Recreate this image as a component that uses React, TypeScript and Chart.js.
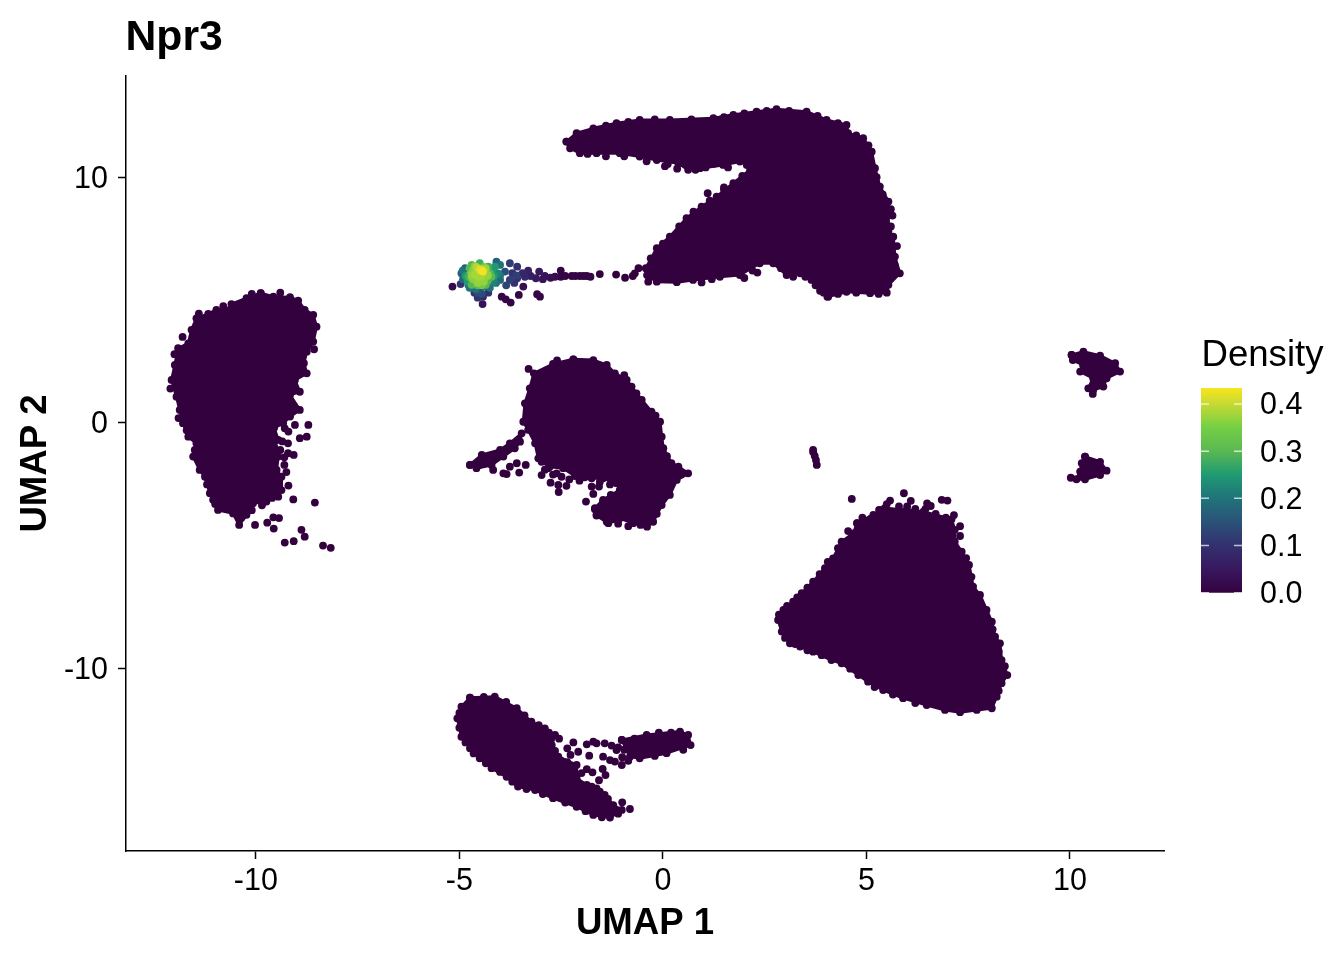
import React, { useEffect, useRef } from "react";
import { Chart, registerables } from "chart.js";

Chart.register(...registerables);

const FONT = "'Liberation Sans', Arial, sans-serif";
const INK = "#34013F";

const xTicks = [-10, -5, 0, 5, 10];
const yTicks = [-10, 0, 10];
const densityTicks = [0, 0.1, 0.2, 0.3, 0.4];
const densityMax = [0.434];

const colourStops: [number, string][] = [
  [0, "#34013F"], [0.05, "#38185F"], [0.1, "#33316F"], [0.15, "#2A5278"], [0.2, "#20737A"],
  [0.25, "#1F9A72"], [0.3, "#5AB853"], [0.35, "#74CF44"], [0.4, "#C6DA33"], [0.434, "#F8E51E"],
];

const leftBlob = [[-9.88,5.28],[-9.57,5.14],[-9.16,5.12],[-8.96,4.98],[-8.8,4.6],[-8.59,4.4],[-8.51,3.92],[-8.59,3.31],[-8.75,2.9],[-8.82,2.43],[-8.75,2.02],[-9.04,1.75],[-8.92,1.27],[-9.16,1.14],[-8.92,0.53],[-9.16,0.26],[-9.33,-0.01],[-9.55,-0.2],[-9.45,-0.69],[-9.55,-0.96],[-9.45,-1.37],[-9.49,-1.91],[-9.37,-2.19],[-9.37,-2.73],[-9.74,-3.2],[-10.07,-3.27],[-10.23,-3.74],[-10.41,-4.15],[-10.56,-3.68],[-10.93,-3.54],[-11.05,-3.13],[-11.13,-2.86],[-11.25,-2.19],[-11.38,-1.91],[-11.54,-1.37],[-11.46,-0.83],[-11.66,-0.56],[-11.79,-0.01],[-11.87,0.53],[-11.95,1.07],[-12.07,1.75],[-11.99,2.36],[-11.91,3.04],[-11.66,3.24],[-11.58,3.79],[-11.46,4.26],[-11.17,4.44],[-10.97,4.6],[-10.64,4.6],[-10.6,4.84],[-10.23,5.08]];
const leftStrays = [[-8.71,-0.08],[-8.92,-0.62],[-8.75,-0.56],[-9.21,-0.83],[-9.21,-1.23],[-9.07,-1.3],[-9.3,-1.71],[-9.08,-3.11],[-8.55,-3.24],[-9.57,-3.84],[-9.43,-3.87],[-9.72,-4.06],[-9.56,-4.3],[-10.02,-4.15],[-8.88,-4.35],[-8.8,-4.63],[-9.29,-4.87],[-9.07,-4.81],[-8.35,-4.99],[-8.16,-5.08],[-8.57,3.0],[-9.29,-0.22],[-9.04,-0.08],[-9.2,-0.35],[-9.35,-0.75],[-9.4,-1.1],[-9.25,-2.0],[-9.2,-2.55],[-9.45,-3.0],[-9.6,-3.05],[-9.85,-3.35],[-10.1,-3.55],[-10.35,-3.85],[-9.5,-2.6],[-9.3,-1.4],[-9.05,2.0],[-8.7,3.35],[-8.95,3.1],[-9.0,4.9],[-9.4,5.3],[-10.1,5.25],[-10.8,4.75],[-11.4,4.45],[-11.8,3.5],[-12.0,2.8],[-12.1,1.4],[-11.9,0.2],[-11.7,-0.3],[-11.5,-1.1],[-11.2,-2.5],[-11.0,-3.3]];

const centreBlob = [[-2.2,2.59],[-1.71,2.56],[-1.38,2.36],[-1.18,2.02],[-0.89,1.75],[-0.77,1.48],[-0.52,0.94],[-0.28,0.46],[-0.07,0.05],[-0.03,-0.56],[0.01,-1.03],[0.21,-1.64],[0.38,-1.78],[0.62,-2.05],[0.34,-2.32],[0.17,-2.93],[-0.03,-3.34],[-0.24,-4.02],[-0.39,-4.22],[-0.73,-4.08],[-1.06,-3.88],[-1.34,-4.08],[-1.63,-3.77],[-1.67,-3.47],[-1.47,-3.13],[-1.06,-2.73],[-1.14,-2.45],[-1.47,-2.25],[-1.75,-2.25],[-1.96,-2.19],[-2.16,-2.16],[-2.45,-1.84],[-2.78,-1.78],[-2.98,-1.58],[-3.06,-1.44],[-3.14,-0.83],[-3.31,-0.28],[-3.43,0.05],[-3.39,0.8],[-3.27,1.41],[-3.17,2.02],[-2.7,2.4]];
const centreStrays = [[-2.98,-2.12],[-2.82,-1.84],[-2.61,-2.05],[-2.49,-2.19],[-2.76,-2.43],[-2.57,-2.52],[-2.37,-2.56],[-2.56,-2.81],[-1.94,-1.94],[-1.92,-2.21],[-1.73,-2.16],[-1.75,-2.59],[-1.57,-2.59],[-1.71,-2.89],[-1.89,-3.2],[-1.28,-2.93],[-1.67,-3.51],[-1.63,-3.74],[-1.38,-4.02],[-1.24,-3.92],[-1.47,-3.2],[-2.9,-1.9],[-2.7,-2.1],[-2.3,-2.3],[-2.05,-2.35],[-1.55,-2.4],[-1.3,-2.5],[-1.1,-3.05],[-1.35,-3.4],[-1.5,-3.7],[-1.1,-4.1],[-0.85,-4.2],[-0.55,-4.15],[-2.6,2.55],[-3.3,2.2],[-0.95,1.95],[-0.65,1.2],[-0.18,0.3],[0.1,-1.35],[0.45,-2.1],[0.0,-3.1],[-0.15,-3.7]];
const centreTail = [[-4.74,-1.71],[-4.45,-1.3],[-4.0,-1.1],[-3.76,-0.83],[-3.47,-0.42],[-3.51,-0.76],[-3.64,-1.03],[-3.92,-1.37],[-4.21,-1.71],[-4.58,-1.84]];
const tailStrays = [[-4.17,-1.91],[-3.92,-2.05],[-3.76,-1.78],[-3.59,-1.64],[-3.37,-1.71],[-3.53,-2.02],[-3.84,-2.08]];

const rightBlob = [[4.77,-4.08],[5.17,-3.74],[5.45,-3.47],[5.99,-3.54],[6.4,-3.61],[7.09,-3.92],[7.17,-4.35],[7.17,-4.83],[7.34,-5.24],[7.52,-5.78],[7.58,-6.26],[7.62,-6.66],[7.79,-7.0],[7.95,-7.61],[8.08,-8.09],[8.16,-8.7],[8.28,-8.97],[8.32,-9.65],[8.46,-10.26],[8.32,-10.59],[8.2,-11.14],[8.08,-11.61],[7.71,-11.68],[7.3,-11.77],[6.93,-11.68],[6.48,-11.48],[5.9,-11.2],[5.41,-10.87],[5.04,-10.53],[4.8,-10.26],[4.39,-9.78],[4.14,-9.65],[3.69,-9.31],[3.37,-9.1],[3.12,-8.97],[2.92,-8.49],[2.83,-8.02],[2.96,-7.61],[3.2,-7.27],[3.41,-6.93],[3.69,-6.46],[3.98,-5.91],[4.18,-5.51],[4.39,-4.83],[4.68,-4.49]];
const rightStrays = [[4.64,-3.09],[5.92,-2.86],[5.58,-3.16],[5.5,-3.3],[6.09,-3.17],[6.49,-3.27],[6.58,-3.38],[6.85,-3.13],[6.99,-3.16],[5.31,-3.54],[4.9,-3.85],[5.1,-3.9],[5.35,-3.55],[5.6,-3.6],[5.8,-3.4],[6.0,-3.4],[6.2,-3.5],[6.45,-3.5],[6.7,-3.7],[6.95,-3.85],[7.15,-3.75],[7.3,-4.2],[7.3,-4.6],[7.45,-5.5],[4.55,-4.4],[4.3,-5.1],[4.05,-5.65],[3.85,-6.15],[3.55,-6.7],[3.3,-7.1],[3.05,-7.45],[2.85,-7.8],[3.0,-8.75],[3.25,-9.0],[3.55,-9.25],[3.9,-9.45],[4.6,-10.0],[5.2,-10.75],[5.65,-11.05],[6.2,-11.4],[8.1,-8.4],[8.25,-9.3],[8.4,-9.9],[8.25,-10.9]];

const bottomBlob = [[-4.74,-11.18],[-4.13,-11.14],[-3.59,-11.61],[-3.23,-12.16],[-2.9,-12.43],[-2.65,-12.7],[-2.73,-13.11],[-2.57,-13.58],[-2.12,-13.92],[-2.12,-14.46],[-1.87,-14.73],[-1.63,-14.87],[-1.43,-15.14],[-1.22,-15.55],[-1.01,-15.75],[-1.3,-16.06],[-1.71,-15.95],[-2.12,-15.62],[-2.7,-15.27],[-3.14,-14.94],[-3.56,-14.8],[-3.84,-14.4],[-4.21,-14.05],[-4.5,-13.65],[-4.74,-13.24],[-4.95,-12.77],[-5.05,-12.02],[-4.95,-11.55]];
const bottomArm = [[-1.01,-12.9],[-0.4,-12.7],[0.42,-12.56],[0.62,-12.7],[0.68,-13.11],[0.09,-13.44],[-0.57,-13.65],[-0.81,-13.58]];
const bottomStrays = [[-1.71,-12.97],[-1.87,-13.08],[-1.63,-13.04],[-1.43,-13.04],[-1.26,-13.13],[-1.14,-13.31],[-1.47,-13.58],[-1.3,-13.72],[-1.18,-13.78],[-1.01,-13.92],[-2.2,-13.0],[-2.35,-13.24],[-2.08,-13.38],[-2.27,-13.51],[-1.81,-13.54],[-1.87,-14.09],[-1.73,-14.22],[-1.48,-14.08],[-1.41,-14.33],[-1.57,-14.54],[-1.0,-15.44],[-0.81,-15.71],[-4.4,-11.15],[-3.85,-11.35],[-3.4,-11.9],[-3.05,-12.3],[-2.8,-12.6],[-2.55,-12.85],[-2.65,-13.35],[-2.35,-13.8],[-2.0,-14.25],[-1.75,-14.8],[-1.55,-15.0],[-1.35,-15.3],[-1.1,-15.9],[-1.5,-16.05],[-1.9,-15.8],[-2.4,-15.45],[-2.95,-15.1],[-3.35,-14.9],[-3.7,-14.6],[-4.0,-14.2],[-4.35,-13.85],[-4.65,-13.45],[-4.85,-13.0],[-5.0,-12.4],[-5.0,-11.8],[-0.7,-12.85],[-0.1,-12.6],[0.2,-12.6],[0.5,-13.3],[-0.2,-13.55],[-0.95,-13.3],[-1.1,-13.2],[-1.0,-13.6],[-0.85,-13.75]];

const topBlob = [[-2.37,11.45],[-2.12,11.79],[-1.71,11.99],[-1.14,12.2],[-0.57,12.33],[0.17,12.33],[1.24,12.4],[1.73,12.54],[2.3,12.67],[2.79,12.77],[3.53,12.67],[4.02,12.33],[4.51,12.13],[4.55,11.79],[4.92,11.59],[5.13,11.04],[5.21,10.37],[5.33,9.62],[5.54,9.01],[5.54,8.47],[5.54,7.79],[5.66,7.58],[5.7,6.77],[5.82,6.09],[5.54,5.62],[5.5,5.3],[5.09,5.28],[4.51,5.34],[4.06,5.14],[3.86,5.38],[3.65,5.82],[3.37,6.09],[3.04,6.02],[2.71,6.5],[2.38,6.5],[1.89,6.02],[1.4,5.95],[0.74,5.82],[0.34,5.73],[-0.15,5.75],[-0.39,6.02],[-0.42,6.3],[-0.15,7.11],[0.17,7.58],[0.58,8.33],[0.95,8.8],[1.32,9.21],[1.73,9.76],[2.14,10.3],[2.06,10.5],[1.89,10.64],[1.48,10.5],[0.91,10.37],[0.62,10.3],[0.38,10.57],[-0.15,10.7],[-0.57,10.84],[-1.06,10.98],[-1.63,10.98],[-2.04,10.98],[-2.28,11.18]];
const topStrays = [[0.12,10.54],[1.1,9.35],[1.5,9.59],[5.64,8.44],[4.04,5.14],[2.32,6.12],[-0.4,10.65],[0.05,10.45],[0.35,10.35],[0.8,10.3],[1.05,10.4],[1.25,10.55],[1.6,10.4],[-0.95,10.85],[-1.4,10.85],[-1.85,10.95],[0.95,5.72],[1.2,5.85],[2.0,5.9],[2.2,6.2],[2.9,6.3],[3.2,5.95],[3.5,5.95],[3.75,5.6],[3.95,5.3],[4.3,5.25],[4.75,5.3],[5.3,5.25],[5.7,6.4],[5.75,7.2],[5.6,8.0],[5.6,8.7],[5.4,9.3],[5.25,10.0],[5.05,11.3],[4.75,11.7],[4.3,12.2],[3.8,12.5],[3.1,12.7],[2.55,12.7],[2.0,12.6],[1.5,12.45],[0.7,12.35],[-0.2,12.35],[-0.85,12.25],[-1.4,12.1],[0.0,7.3],[0.4,8.0],[0.75,8.6],[1.15,9.05],[1.5,9.5],[1.95,10.05],[-0.3,6.7]];

const islandUpper = [[10.04,2.77],[10.33,2.9],[10.74,2.74],[11.11,2.43],[11.23,2.09],[10.9,1.82],[10.82,1.48],[10.57,1.34],[10.45,1.41],[10.57,1.82],[10.25,2.09],[10.32,2.36],[10.07,2.56]];
const islandLower = [[10.37,-1.37],[10.74,-1.58],[10.9,-1.94],[10.74,-2.12],[10.37,-2.29],[10.16,-2.29],[10.25,-1.98],[10.29,-1.64]];
const islandStrays = [[10.56,1.18],[10.02,-2.23],[3.69,-1.1],[3.73,-1.34],[3.78,-1.71],[3.69,-1.18],[3.76,-1.51]];

// x, y, density
const hotspot = [
  [-5.17,5.55,0.02],[-4.97,5.65,0.1],[-4.63,5.3,0.1],[-4.42,5.14,0.08],[-4.43,4.84,0.04],[-4.29,5.3,0.1],[-3.96,5.14,0.01],[-3.86,5.03,0.01],[-3.74,4.9,0.01],[-3.54,5.21,0.01],[-3.09,5.24,0.01],[-3.02,5.14,0.01],[-3.43,5.55,0.03],[-2.51,6.2,0.01],[-2.51,5.95,0.01],[-2.24,5.98,0.01],[-2.04,5.98,0.01],[-1.87,5.98,0.01],[-1.55,6.06,0],[-1.15,6.04,0],[-0.93,5.91,0],[-2.76,5.91,0.03],[-2.9,5.98,0.04],[-3.04,6.16,0.05],[-3.12,5.89,0.05],[-3.31,6.2,0.07],[-3.39,5.95,0.08],[-3.58,6.36,0.1],[-3.58,5.89,0.1],[-3.76,6.5,0.12],[-3.76,5.82,0.12],[-3.88,6.16,0.15],[-4.0,5.82,0.18],[-4.09,6.56,0.17],[-4.0,6.43,0.2],[-4.5,5.41,0.15],[-4.86,6.3,0.17],[-4.95,6.09,0.17],[-4.91,5.85,0.18],[-4.78,5.62,0.18],[-4.62,5.62,0.22],[-4.37,5.55,0.2],[-4.17,5.75,0.22],[-4.05,6.09,0.22],[-4.13,6.36,0.25],[-4.7,6.43,0.3],[-4.5,6.5,0.28],[-4.29,6.36,0.28],[-4.78,5.95,0.28],[-4.66,5.75,0.3],[-4.42,5.71,0.3],[-4.21,5.95,0.3],[-4.66,6.23,0.36],[-4.33,6.09,0.36],[-4.54,5.95,0.38],[-4.5,6.26,0.41],[-4.42,6.16,0.43],[-4.58,6.34,0.39],[-4.5,5.82,0.36],
  [-4.92,6.2,0.2],[-4.0,6.0,0.2],[-4.1,5.7,0.2],[-4.25,5.5,0.2],[-4.75,5.5,0.2],[-4.6,5.45,0.2],[-4.85,5.98,0.25],[-4.8,5.75,0.25],[-4.2,6.2,0.25],[-4.15,6.0,0.25],[-4.7,5.62,0.3],[-4.55,5.6,0.3],[-4.35,5.62,0.3],[-4.3,5.8,0.3],[-4.25,6.1,0.3],[-4.75,6.3,0.3],[-4.7,5.9,0.34],[-4.6,5.8,0.34],[-4.4,5.85,0.34],[-4.35,5.95,0.34],[-4.4,6.35,0.34],[-4.7,6.1,0.34],[-4.62,6.05,0.38],[-4.5,6.1,0.38],[-4.45,6.0,0.38],[-4.55,6.2,0.38],[-4.4,6.25,0.38],[-4.48,6.2,0.42],[-4.45,6.22,0.42],
  [-3.7,6.1,0.1],[-3.45,6.1,0.08],[-3.25,5.98,0.06],[-3.65,5.7,0.1],[-3.85,5.6,0.13],[-3.6,6.0,0.12],[-2.95,5.85,0.04],[-2.65,5.95,0.02],[-2.4,5.98,0.01],[-2.15,5.98,0.01],[-1.95,5.98,0.01],[-1.78,5.95,0.01],[-4.55,5.1,0.1],[-4.45,5.25,0.14],[-4.55,5.3,0.14],[-0.74,5.98,0],[-0.69,6.09,0],[-0.6,6.3,0],[-0.36,5.75,0],
  [-4.7,6.0,0.37],[-4.65,5.85,0.36],[-4.4,5.75,0.37],[-4.3,6.0,0.37],[-4.55,5.7,0.37],[-4.45,5.6,0.34],[-4.62,6.38,0.36],[-4.35,6.3,0.37],
];

function hexRgb(h: string) {
  return [1, 3, 5].map((i) => parseInt(h.slice(i, i + 2), 16));
}
function densityColour(d: number) {
  for (let i = 1; i < colourStops.length; i++) {
    if (d <= colourStops[i][0]) {
      const [a, ca] = colourStops[i - 1];
      const [b, cb] = colourStops[i];
      const t = (d - a) / (b - a);
      const A = hexRgb(ca), B = hexRgb(cb);
      return `rgb(${A.map((v, k) => Math.round(v + (B[k] - v) * t)).join(",")})`;
    }
  }
  return colourStops[colourStops.length - 1][1];
}

const R = 3.9;
const toPts = (list: number[][]) => list.map(([x, y]) => ({ x, y }));
const closed = (list: number[][]) => toPts([...list, list[0]]);
const region = (list: number[][]) => ({
  type: "scatter", data: closed(list), showLine: true, fill: "shape", tension: 0,
  backgroundColor: INK, borderColor: INK, borderWidth: 3, borderJoinStyle: "round",
  pointRadius: R, pointBorderWidth: 0, pointBackgroundColor: INK,
});
const scatter = (list: number[][]) => ({
  type: "scatter", data: toPts(list), pointRadius: R, pointBorderWidth: 0,
  pointBackgroundColor: INK, backgroundColor: INK,
});

const label = (text: string, x: number, y: number, font: string) => ({
  id: "label-" + text,
  afterDraw(c: any) {
    const g = c.ctx;
    g.save();
    g.font = font;
    g.fillStyle = "#000";
    g.textBaseline = "middle";
    g.textAlign = "left";
    g.fillText(text, x, y);
    g.restore();
  },
});

export default function App() {
  const mainRef = useRef<HTMLCanvasElement>(null);
  const legendRef = useRef<HTMLCanvasElement>(null);

  useEffect(() => {
    const sorted = [...hotspot].sort((a, b) => a[2] - b[2]);
    const main = new Chart(mainRef.current as any, {
      type: "scatter",
      data: {
        datasets: [
          {
            type: "scatter", data: toPts(sorted), pointRadius: R, pointBorderWidth: 0,
            pointBackgroundColor: sorted.map((p) => densityColour(p[2])),
          },
          scatter(leftStrays), region(leftBlob),
          scatter(centreStrays), region(centreBlob), region(centreTail), scatter(tailStrays),
          scatter(rightStrays), region(rightBlob),
          scatter(bottomStrays), region(bottomBlob), region(bottomArm),
          scatter(topStrays), region(topBlob),
          region(islandUpper), region(islandLower), scatter(islandStrays),
        ] as any,
      },
      options: {
        responsive: false, animation: false,
        layout: { padding: { left: 0, right: 180, top: 76, bottom: 0 } },
        plugins: { legend: { display: false }, tooltip: { enabled: false } },
        scales: {
          x: {
            type: "linear", min: -13.19, max: 12.31,
            afterBuildTicks: (s: any) => { s.ticks = xTicks.map((value) => ({ value })); },
            afterFit: (s: any) => { s.height = 109; },
            grid: { drawOnChartArea: false, drawTicks: true, tickLength: 8, tickWidth: 1.5, tickColor: "#000" },
            border: { display: true, color: "#000", width: 1.5 },
            ticks: { color: "#000", font: { family: FONT, size: 30.5 }, padding: 4, maxRotation: 0 },
            title: { display: true, text: "UMAP 1", color: "#000", font: { family: FONT, size: 36.6, weight: "bold" }, padding: { top: 0, bottom: 14 } },
          },
          y: {
            type: "linear", min: -17.42, max: 14.12,
            afterBuildTicks: (s: any) => { s.ticks = yTicks.map((value) => ({ value })); },
            afterFit: (s: any) => { s.width = 126; },
            grid: { drawOnChartArea: false, drawTicks: true, tickLength: 8, tickWidth: 1.5, tickColor: "#000" },
            border: { display: true, color: "#000", width: 1.5 },
            ticks: { color: "#000", font: { family: FONT, size: 30.5 }, padding: 10, labelOffset: 2 },
            title: { display: true, text: "UMAP 2", color: "#000", font: { family: FONT, size: 36.6, weight: "bold" }, padding: { top: 14, bottom: 0 } },
          },
        },
      } as any,
      plugins: [label("Npr3", 125.5, 38.5, `bold 42.7px ${FONT}`)],
    } as any);

    const ticksPlugin = {
      id: "barTicks",
      afterDatasetsDraw(c: any) {
        const g = c.ctx, s = c.scales.y, a = c.chartArea;
        g.save();
        g.strokeStyle = "rgba(255,255,255,0.7)";
        g.lineWidth = 1.5;
        densityTicks.forEach((t) => {
          const y = s.getPixelForValue(t);
          g.beginPath(); g.moveTo(a.left, y); g.lineTo(a.left + 8, y);
          g.moveTo(a.right - 8, y); g.lineTo(a.right, y); g.stroke();
        });
        g.restore();
      },
    };
    const legend = new Chart(legendRef.current as any, {
      type: "bar",
      data: {
        labels: ["Density"],
        datasets: [{
          data: densityMax, barPercentage: 1, categoryPercentage: 1, borderWidth: 0,
          backgroundColor: (ctx: any) => {
            const a = ctx.chart.chartArea;
            if (!a) return INK;
            const y = ctx.chart.scales.y;
            const grad = ctx.chart.ctx.createLinearGradient(0, y.getPixelForValue(0), 0, y.getPixelForValue(densityMax[0]));
            colourStops.forEach(([v, c]) => grad.addColorStop(v / densityMax[0], c));
            return grad;
          },
        }],
      },
      options: {
        responsive: false, animation: false,
        layout: { padding: { left: 13, right: 0, top: 58, bottom: 0 } },
        plugins: { legend: { display: false }, tooltip: { enabled: false } },
        scales: {
          x: { display: false },
          y: {
            position: "right", min: 0, max: densityMax[0],
            afterBuildTicks: (s: any) => { s.ticks = densityTicks.map((value) => ({ value })); },
            afterFit: (s: any) => { s.width = 102; },
            grid: { display: false, drawTicks: false },
            border: { display: false },
            ticks: { color: "#000", font: { family: FONT, size: 30.5 }, padding: 18, labelOffset: 2, callback: (v: any) => Number(v).toFixed(1) },
          },
        },
      } as any,
      plugins: [ticksPlugin, label("Density", 13.5, 26, `36.6px ${FONT}`)],
    } as any);

    return () => { main.destroy(); legend.destroy(); };
  }, []);

  return (
    <div style={{ position: "fixed", left: 0, top: 0, width: 1344, height: 960, background: "#fff", overflow: "hidden" }}>
      <canvas ref={mainRef} width={1344} height={960} style={{ position: "absolute", left: 0, top: 0 }} />
      <canvas ref={legendRef} width={156} height={299} style={{ position: "absolute", left: 1188, top: 330 }} />
    </div>
  );
}
